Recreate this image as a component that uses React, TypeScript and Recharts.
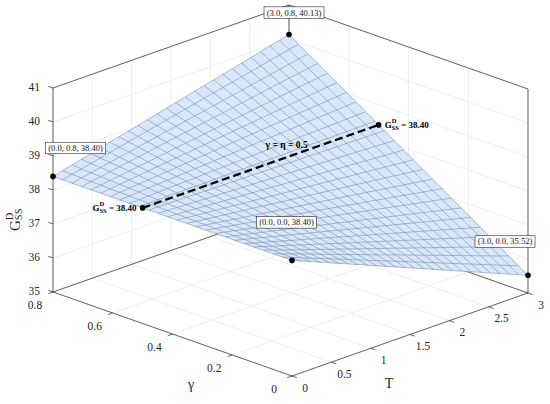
import { ScatterChart, Scatter, XAxis, YAxis } from 'recharts'

// ─── Axis ticks ──────────────────────────────────────────────────────────────
const T_TICKS = [0, 0.5, 1, 1.5, 2, 2.5, 3]
const T_TICK_LABELS = ['0', '0.5', '1', '1.5', '2', '2.5', '3']
const GAMMA_TICKS = [0, 0.2, 0.4, 0.6, 0.8]
const GAMMA_TICK_LABELS = ['0', '0.2', '0.4', '0.6', '0.8']
const G_TICKS = [35, 36, 37, 38, 39, 40, 41]
const G_TICK_LABELS = ['35', '36', '37', '38', '39', '40', '41']

// ─── Surface mesh: G read along the four edges of the patch ──────────────────
const MESH_T = [0, 0.12, 0.24, 0.36, 0.48, 0.6, 0.72, 0.84, 0.96, 1.08, 1.2, 1.32, 1.44, 1.56, 1.68, 1.8, 1.92, 2.04, 2.16, 2.28, 2.4, 2.52, 2.64, 2.76, 2.88, 3]
const G_ALONG_GAMMA_0 = [38.40, 38.28, 38.17, 38.05, 37.94, 37.82, 37.71, 37.59, 37.48, 37.36, 37.25, 37.13, 37.02, 36.90, 36.79, 36.67, 36.56, 36.44, 36.33, 36.21, 36.10, 35.98, 35.87, 35.75, 35.64, 35.52]
const G_ALONG_GAMMA_08 = [38.40, 38.47, 38.54, 38.61, 38.68, 38.75, 38.82, 38.88, 38.95, 39.02, 39.09, 39.16, 39.23, 39.30, 39.37, 39.44, 39.51, 39.58, 39.65, 39.71, 39.78, 39.85, 39.92, 39.99, 40.06, 40.13]

const MESH_GAMMA = [0, 0.032, 0.064, 0.096, 0.128, 0.16, 0.192, 0.224, 0.256, 0.288, 0.32, 0.352, 0.384, 0.416, 0.448, 0.48, 0.512, 0.544, 0.576, 0.608, 0.64, 0.672, 0.704, 0.736, 0.768, 0.8]
const G_ALONG_T_0 = [38.40, 38.40, 38.40, 38.40, 38.40, 38.40, 38.40, 38.40, 38.40, 38.40, 38.40, 38.40, 38.40, 38.40, 38.40, 38.40, 38.40, 38.40, 38.40, 38.40, 38.40, 38.40, 38.40, 38.40, 38.40, 38.40]
const G_ALONG_T_3 = [35.52, 35.70, 35.89, 36.07, 36.26, 36.44, 36.63, 36.81, 37.00, 37.18, 37.36, 37.55, 37.73, 37.92, 38.10, 38.29, 38.47, 38.65, 38.84, 39.02, 39.21, 39.39, 39.58, 39.76, 39.95, 40.13]

// ─── Marked corner points and the γ = η contour ──────────────────────────────
const CORNER_T = [3, 0, 0, 3]
const CORNER_GAMMA = [0.8, 0.8, 0, 0]
const CORNER_G = [40.13, 38.40, 38.40, 35.52]
const CORNER_LABELS = ['(3.0, 0.8, 40.13)', '(0.0, 0.8, 38.40)', '(0.0, 0.0, 38.40)', '(3.0, 0.0, 35.52)']

const CONTOUR_T = [0, 3]
const CONTOUR_GAMMA = 0.5
const CONTOUR_G = 38.40
const CONTOUR_VALUE_LABEL = '38.40'

// ─── Styling ─────────────────────────────────────────────────────────────────
const W = 550
const H = 404
const FONT = 'Liberation Serif, DejaVu Serif, serif'
const INK = '#262626'
const GRID_COLOR = '#e3e3e3'
const SURFACE_FILL = '#d8e7f9'
const MESH_COLOR = '#7a8fae'

// callout box centre relative to its dot (px)
const CALLOUT_OFFSETS = [[5, -22], [22.5, -28.4], [-5.5, -38], [-23, -33.8]]

// Orthographic view of the box (MATLAB-like az/el), chart units == px
const VIEW = { ox: 292, oy: 376, tx: 78.67, ty: -27.67, gx: -298.75, gy: -105, zy: -34, z0: 35 }
const proj = (t: number, g: number, z: number) => ({
  x: VIEW.ox + VIEW.tx * t + VIEW.gx * g,
  y: VIEW.oy + VIEW.ty * t + VIEW.gy * g + VIEW.zy * (z - VIEW.z0),
})

type V3 = [number, number, number]
const toPts = (seg: V3[]) => seg.map(([t, g, z]) => proj(t, g, z))

const T0 = T_TICKS[0]
const T1 = T_TICKS[T_TICKS.length - 1]
const GA0 = GAMMA_TICKS[0]
const GA1 = GAMMA_TICKS[GAMMA_TICKS.length - 1]
const Z0 = G_TICKS[0]
const Z1 = G_TICKS[G_TICKS.length - 1]

// back planes: floor, γ = 0.8 wall, T = 3 wall
const GRID_LINES: V3[][] = [
  ...T_TICKS.map((t): V3[] => [[t, GA0, Z0], [t, GA1, Z0]]),
  ...GAMMA_TICKS.map((g): V3[] => [[T0, g, Z0], [T1, g, Z0]]),
  ...T_TICKS.map((t): V3[] => [[t, GA1, Z0], [t, GA1, Z1]]),
  ...G_TICKS.map((z): V3[] => [[T0, GA1, z], [T1, GA1, z]]),
  ...GAMMA_TICKS.map((g): V3[] => [[T1, g, Z0], [T1, g, Z1]]),
  ...G_TICKS.map((z): V3[] => [[T1, GA0, z], [T1, GA1, z]]),
]

const BOX_LINES: V3[][] = [
  [[T0, GA1, Z0], [T0, GA0, Z0]],
  [[T0, GA0, Z0], [T1, GA0, Z0]],
  [[T1, GA0, Z0], [T1, GA1, Z0]],
  [[T1, GA1, Z0], [T0, GA1, Z0]],
  [[T0, GA1, Z0], [T0, GA1, Z1]],
  [[T1, GA0, Z0], [T1, GA0, Z1]],
  [[T1, GA1, Z0], [T1, GA1, Z1]],
  [[T0, GA1, Z1], [T1, GA1, Z1]],
  [[T1, GA1, Z1], [T1, GA0, Z1]],
]

// outward tick marks
const TICK_MARKS: V3[][] = [
  ...T_TICKS.map((t): V3[] => [[t, GA0, Z0], [t, GA0 - 0.016, Z0]]),
  ...GAMMA_TICKS.map((g): V3[] => [[T0, g, Z0], [T0 - 0.06, g, Z0]]),
  ...G_TICKS.map((z): V3[] => [[T0, GA1, z], [T0, GA1 + 0.016, z]]),
]

const MESH_LINES: V3[][] = [
  ...MESH_GAMMA.map((g, i): V3[] => [[T0, g, G_ALONG_T_0[i]], [T1, g, G_ALONG_T_3[i]]]),
  ...MESH_T.map((t, i): V3[] => [[t, GA0, G_ALONG_GAMMA_0[i]], [t, GA1, G_ALONG_GAMMA_08[i]]]),
]

const SURFACE_OUTLINE: V3[] = [
  [T0, GA0, G_ALONG_GAMMA_0[0]],
  [T1, GA0, G_ALONG_GAMMA_0[G_ALONG_GAMMA_0.length - 1]],
  [T1, GA1, G_ALONG_GAMMA_08[G_ALONG_GAMMA_08.length - 1]],
  [T0, GA1, G_ALONG_GAMMA_08[0]],
]

const CONTOUR: V3[] = CONTOUR_T.map((t): V3 => [t, CONTOUR_GAMMA, CONTOUR_G])

const cornerDots = CORNER_T.map((t, i) => ({
  ...proj(t, CORNER_GAMMA[i], CORNER_G[i]),
  label: CORNER_LABELS[i],
  dx: CALLOUT_OFFSETS[i][0],
  dy: CALLOUT_OFFSETS[i][1],
}))
const contourDots = toPts(CONTOUR).map((p, i) => ({ ...p, side: i === 0 ? 'left' : 'right' }))

const tLabels = T_TICKS.map((t, i) => ({ ...proj(t, GA0, Z0), label: T_TICK_LABELS[i] }))
const gammaLabels = GAMMA_TICKS.map((g, i) => ({ ...proj(T0, g, Z0), label: GAMMA_TICK_LABELS[i] }))
const gLabels = G_TICKS.map((z, i) => ({ ...proj(T0, GA1, z), label: G_TICK_LABELS[i] }))

const tTitle = [proj((T0 + T1) / 2, GA0, Z0)]
const gammaTitle = [proj(T0, (GA0 + GA1) / 2, Z0)]
const gTitle = [proj(T0, GA1, (Z0 + Z1) / 2 - 0.5)]
const contourTitle = [proj((T0 + T1) / 2, CONTOUR_GAMMA, CONTOUR_G)]

// ─── Shapes ──────────────────────────────────────────────────────────────────
const noMarker = () => <g />

const tickText = (dx: number, dy: number, anchor: 'start' | 'middle' | 'end') => (p: any) => (
  <text x={p.cx + dx} y={p.cy + dy} dy="0.35em" textAnchor={anchor} fontSize={11.5} fill={INK} fontFamily={FONT}>
    {p.payload.label}
  </text>
)

const dot = (p: any) => <circle cx={p.cx} cy={p.cy} r={2.8} fill="#000" />

const callout = (p: any) => {
  const bx = p.cx + p.payload.dx
  const by = p.cy + p.payload.dy
  return (
    <g>
      <rect x={bx - 30} y={by - 5.75} width={60} height={11.5} fill="#fff" stroke={INK} strokeWidth={0.6} />
      <text x={bx} y={by} dy="0.35em" textAnchor="middle" fontSize={8.5} fill="#111" fontFamily={FONT}>
        {p.payload.label}
      </text>
    </g>
  )
}

const contourValue = (p: any) => {
  const left = p.payload.side === 'left'
  return (
    <text x={left ? p.cx - 6 : p.cx + 6} y={p.cy + 3} textAnchor={left ? 'end' : 'start'} fontSize={9} fontWeight="bold" fill="#000" fontFamily={FONT}>
      G<tspan fontSize={6.5} dy={-4.5}>D</tspan>
      <tspan fontSize={6.5} dx={-4.7} dy={7}>SS</tspan>
      <tspan dy={-2.5}>{` = ${CONTOUR_VALUE_LABEL}`}</tspan>
    </text>
  )
}

const contourName = (p: any) => (
  <text x={p.cx + 26} y={p.cy - 18} textAnchor="middle" fontSize={9.5} fontWeight="bold" fill="#000" fontFamily={FONT}>
    {`γ = η = ${CONTOUR_GAMMA}`}
  </text>
)

const tTitleShape = (p: any) => (
  <text x={p.cx - 21} y={p.cy + 54} textAnchor="middle" fontSize={14} fill={INK} fontFamily={FONT}>T</text>
)
const gammaTitleShape = (p: any) => (
  <text x={p.cx + 18.5} y={p.cy + 55} textAnchor="middle" fontSize={14} fill={INK} fontFamily={FONT}>γ</text>
)
const gTitleShape = (p: any) => (
  <text transform={`translate(${p.cx - 33},${p.cy + 24}) rotate(-90)`} fontSize={15} fill={INK} fontFamily={FONT}>
    G<tspan fontSize={10.5} dy={-7}>D</tspan>
    <tspan fontSize={10.5} dx={-7.6} dy={9}>SS</tspan>
  </text>
)

export default function App() {
  return (
    <div style={{ position: 'absolute', left: 0, top: 0, width: W, height: H, background: '#fff' }}>
      <ScatterChart width={W} height={H} margin={{ top: 0, right: 0, bottom: 0, left: 0 }}>
        <XAxis type="number" dataKey="x" domain={[0, W]} hide allowDataOverflow />
        <YAxis type="number" dataKey="y" domain={[0, H]} hide reversed allowDataOverflow />

        {GRID_LINES.map((s, i) => (
          <Scatter key={`grid${i}`} data={toPts(s)} line={{ stroke: GRID_COLOR, strokeWidth: 0.6 }} shape={noMarker} isAnimationActive={false} />
        ))}
        {BOX_LINES.map((s, i) => (
          <Scatter key={`box${i}`} data={toPts(s)} line={{ stroke: INK, strokeWidth: 0.7 }} shape={noMarker} isAnimationActive={false} />
        ))}
        {TICK_MARKS.map((s, i) => (
          <Scatter key={`tick${i}`} data={toPts(s)} line={{ stroke: INK, strokeWidth: 0.7 }} shape={noMarker} isAnimationActive={false} />
        ))}

        {/* surface patch: filled outline, then the mesh on top */}
        <Scatter data={toPts(SURFACE_OUTLINE)} line={{ fill: SURFACE_FILL, stroke: 'none' }} shape={noMarker} isAnimationActive={false} />
        {MESH_LINES.map((s, i) => (
          <Scatter key={`mesh${i}`} data={toPts(s)} line={{ stroke: MESH_COLOR, strokeWidth: 0.6 }} shape={noMarker} isAnimationActive={false} />
        ))}
        <Scatter data={toPts(CONTOUR)} line={{ stroke: '#000', strokeWidth: 2.3, strokeDasharray: '8 4' }} shape={noMarker} isAnimationActive={false} />

        <Scatter data={tLabels} shape={tickText(13, 11.5, 'middle')} isAnimationActive={false} />
        <Scatter data={gammaLabels} shape={tickText(-18, 13, 'middle')} isAnimationActive={false} />
        <Scatter data={gLabels} shape={tickText(-13, -1, 'end')} isAnimationActive={false} />
        <Scatter data={tTitle} shape={tTitleShape} isAnimationActive={false} />
        <Scatter data={gammaTitle} shape={gammaTitleShape} isAnimationActive={false} />
        <Scatter data={gTitle} shape={gTitleShape} isAnimationActive={false} />

        <Scatter data={cornerDots} shape={callout} isAnimationActive={false} />
        <Scatter data={cornerDots} shape={dot} isAnimationActive={false} />
        <Scatter data={contourDots} shape={dot} isAnimationActive={false} />
        <Scatter data={contourDots} shape={contourValue} isAnimationActive={false} />
        <Scatter data={contourTitle} shape={contourName} isAnimationActive={false} />
      </ScatterChart>
    </div>
  )
}
